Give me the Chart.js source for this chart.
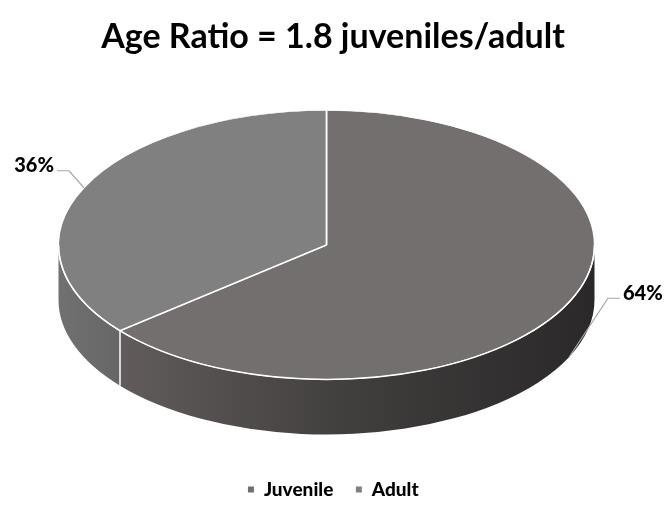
<!DOCTYPE html>
<html lang="en">
  <head>
    <meta charset="UTF-8" />
    <title>Age Ratio</title>
    <script src="https://cdn.jsdelivr.net/npm/chart.js"></script>
    <style>
      body { margin: 0; background: #fff; }
      #chart { display: block; }
    </style>
  </head>
  <body>
    <canvas id="chart" width="666" height="529"></canvas>

    <script>
      // Data
      const categories = ["Juvenile", "Adult"];
      const shares = [64, 36];
      const chartTitle = "Age Ratio = 1.8 juveniles/adult";

      // Colours of the top faces and the sides
      const topColors = ["#736f6e", "#808080"];
      const sideStops = [
        ["#615c5b", "#403d3d", "#2a2828"],
        ["#717171", "#666666"],
      ];

      // Where the squashed pie sits on the page
      const view = { cx: 326.5, cy: 245, rx: 268, ry: 134.5, depth: 55 };

      function rimPoint(a, dy) {
        return {
          x: view.cx + view.rx * Math.cos(a),
          y: view.cy + view.ry * Math.sin(a) + (dy || 0),
        };
      }

      // Draws the 3D side walls, squashes the top, then adds edges + labels
      const pie3d = {
        id: "pie3d",
        beforeDatasetsDraw(chart) {
          const ctx = chart.ctx;
          const arcs = chart.getDatasetMeta(0).data;

          arcs.forEach((arc, i) => {
            const a = Math.max(arc.startAngle, 0);
            const b = Math.min(arc.endAngle, Math.PI);
            if (b <= a) return;
            const p1 = rimPoint(a), p2 = rimPoint(b);
            const g = ctx.createLinearGradient(Math.min(p1.x, p2.x), 0, Math.max(p1.x, p2.x), 0);
            const stops = sideStops[i];
            stops.forEach((c, k) => g.addColorStop(k / (stops.length - 1), c));
            ctx.beginPath();
            ctx.ellipse(view.cx, view.cy, view.rx, view.ry, 0, a, b, false);
            const q = rimPoint(b, view.depth);
            ctx.lineTo(q.x, q.y);
            ctx.ellipse(view.cx, view.cy + view.depth, view.rx, view.ry, 0, b, a, true);
            ctx.closePath();
            ctx.fillStyle = g;
            ctx.fill();
          });

          const a0 = arcs[0];
          ctx.save();
          ctx.translate(view.cx, view.cy);
          ctx.scale(view.rx / a0.outerRadius, view.ry / a0.outerRadius);
          ctx.translate(-a0.x, -a0.y);
        },
        afterDatasetsDraw(chart) {
          const ctx = chart.ctx;
          ctx.restore();
          const arcs = chart.getDatasetMeta(0).data;
          const total = shares.reduce((s, v) => s + v, 0);

          // white edges
          ctx.save();
          ctx.strokeStyle = "#ffffff";
          ctx.lineWidth = 1.5;
          ctx.beginPath();
          ctx.ellipse(view.cx, view.cy, view.rx, view.ry, 0, 0, Math.PI, false);
          ctx.stroke();
          arcs.forEach((arc) => {
            const p = rimPoint(arc.startAngle);
            ctx.beginPath();
            ctx.moveTo(view.cx, view.cy);
            ctx.lineTo(p.x, p.y);
            ctx.stroke();
            const s = ((arc.startAngle % (2 * Math.PI)) + 2 * Math.PI) % (2 * Math.PI);
            if (s > 0 && s < Math.PI) {
              ctx.beginPath();
              ctx.moveTo(p.x, p.y);
              ctx.lineTo(p.x, p.y + view.depth);
              ctx.stroke();
            }
          });
          ctx.restore();

          // data labels with leader lines
          ctx.save();
          ctx.font = "900 20px Lato";
          ctx.fillStyle = "#000";
          ctx.strokeStyle = "#a6a6a6";
          ctx.lineWidth = 1.2;
          ctx.textBaseline = "middle";
          arcs.forEach((arc, i) => {
            const mid = (arc.startAngle + arc.endAngle) / 2;
            const right = Math.cos(mid) > 0;
            const anchor = rimPoint(mid, right ? view.depth : 0);
            const elbow = right
              ? { x: anchor.x + 39, y: anchor.y - 59 }
              : { x: anchor.x - 15, y: anchor.y - 17 };
            const end = { x: elbow.x + (right ? 12 : -12), y: elbow.y };
            ctx.beginPath();
            ctx.moveTo(anchor.x, anchor.y);
            ctx.lineTo(elbow.x, elbow.y);
            ctx.lineTo(end.x, end.y);
            ctx.stroke();
            const txt = Math.round((shares[i] / total) * 100) + "%";
            ctx.textAlign = right ? "left" : "right";
            ctx.fillText(txt, end.x + (right ? 3 : -3), end.y - 5);
          });
          ctx.restore();
        },
      };

      new Chart(document.getElementById("chart").getContext("2d"), {
        type: "pie",
        data: {
          labels: categories,
          datasets: [
            {
              data: shares,
              backgroundColor: topColors,
              borderColor: "#ffffff",
              borderWidth: 1,
              clip: false,
            },
          ],
        },
        options: {
          responsive: false,
          animation: false,
          events: [],
          layout: { padding: { bottom: 20 } },
          plugins: {
            title: {
              display: true,
              text: chartTitle,
              color: "#000",
              font: { family: "Lato", size: 34, weight: "bold" },
              padding: { top: 17, bottom: 10 },
            },
            legend: {
              position: "bottom",
              labels: {
                color: "#000",
                boxWidth: 7,
                boxHeight: 7,
                padding: 22,
                font: { family: "Lato", size: 19, weight: "900" },
              },
            },
            tooltip: { enabled: false },
          },
        },
        plugins: [pie3d],
      });
    </script>
  </body>
</html>
